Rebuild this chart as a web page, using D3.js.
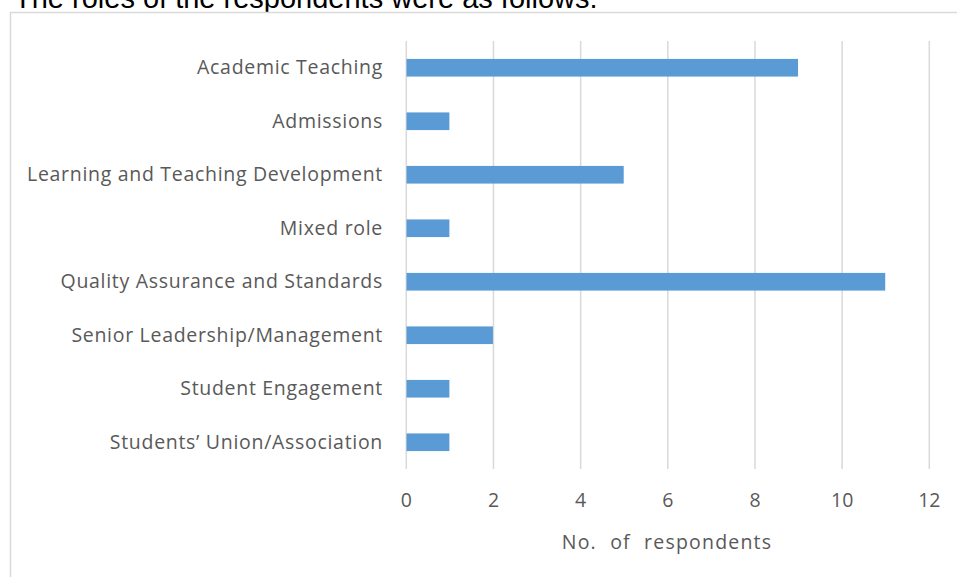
<!DOCTYPE html>
<html>
<head>
<meta charset="utf-8">
<script src="https://cdn.jsdelivr.net/npm/d3@7"></script>
<style>
  html, body { margin: 0; padding: 0; background: #ffffff; }
  svg { display: block; }
</style>
</head>
<body>
<svg id="chart" width="957" height="577"></svg>
<script>
// Respondent roles and counts
const roles = [
  "Academic Teaching",
  "Admissions",
  "Learning and Teaching Development",
  "Mixed role",
  "Quality Assurance and Standards",
  "Senior Leadership/Management",
  "Student Engagement",
  "Students\u2019 Union/Association"
];
const respondents = [9, 1, 5, 1, 11, 2, 1, 1];
const xTicks = [0, 2, 4, 6, 8, 10, 12];
const headline = "The roles of the respondents were as follows:";
const xAxisTitle = "No. of respondents";

const svg = d3.select("#chart");
const labelFont = "'Open Sans', sans-serif";
const textColor = "#595959";

// Lead-in sentence above the chart frame
svg.append("text")
  .attr("x", 14)
  .attr("y", 8)
  .attr("font-family", "'Liberation Sans', Arial, sans-serif")
  .attr("font-size", 29)
  .attr("fill", "#000")
  .text(headline);

// Chart frame
svg.append("rect")
  .attr("x", 10.5)
  .attr("y", 12.5)
  .attr("width", 960)
  .attr("height", 580)
  .attr("fill", "#fff")
  .attr("stroke", "#d9d9d9")
  .attr("stroke-width", 1.5);

const x = d3.scaleLinear().domain([0, 12]).range([405.8, 928.8]);
const y = d3.scaleBand().domain(roles).range([41, 469]).paddingInner(0.67).paddingOuter(0.335);

// Vertical gridlines
const grid = svg.append("g")
  .attr("transform", "translate(0,41)")
  .call(d3.axisBottom(x).tickValues(xTicks).tickSize(428).tickFormat(""));
grid.select(".domain").remove();
grid.selectAll("line").attr("stroke", "#d9d9d9").attr("stroke-width", 1.5);

// Bars
svg.append("g").selectAll("rect")
  .data(roles)
  .join("rect")
  .attr("x", x(0) + 0.7)
  .attr("y", d => y(d))
  .attr("width", (d, i) => x(respondents[i]) - x(0) - 0.7)
  .attr("height", y.bandwidth())
  .attr("fill", "#5b9bd5");

// Category labels
const yAxis = svg.append("g")
  .attr("transform", "translate(383,0)")
  .call(d3.axisLeft(y).tickSize(0).tickPadding(0));
yAxis.select(".domain").remove();
yAxis.selectAll("text")
  .attr("font-family", labelFont)
  .attr("font-size", 19.5)
  .attr("letter-spacing", 0.7)
  .attr("fill", textColor);

// Value tick labels
const xAxis = svg.append("g")
  .attr("transform", "translate(0,507)")
  .call(d3.axisBottom(x).tickValues(xTicks).tickSize(0).tickPadding(0).tickFormat(d3.format("d")));
xAxis.select(".domain").remove();
xAxis.selectAll("text")
  .attr("dy", 0)
  .attr("y", 0)
  .attr("font-family", labelFont)
  .attr("font-size", 19.5)
  .attr("fill", textColor);

// Axis title
svg.append("text")
  .attr("x", 667)
  .attr("y", 549)
  .attr("text-anchor", "middle")
  .attr("font-family", labelFont)
  .attr("font-size", 19.5)
  .attr("letter-spacing", 1.2)
  .attr("word-spacing", 7)
  .attr("fill", textColor)
  .text(xAxisTitle);
</script>
</body>
</html>
